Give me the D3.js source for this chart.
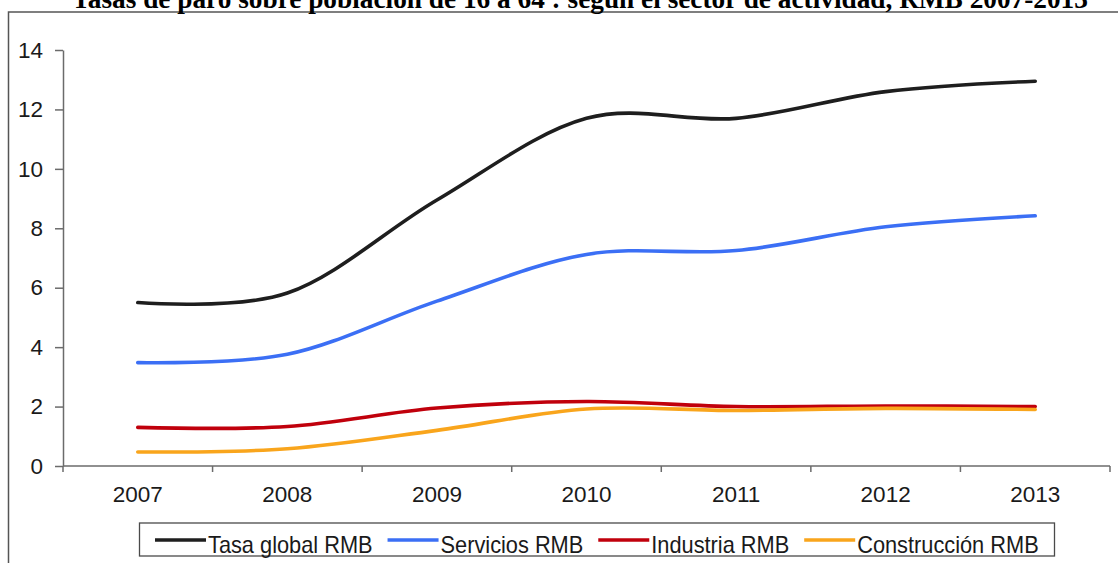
<!DOCTYPE html>
<html>
<head>
<meta charset="utf-8">
<script src="https://cdn.jsdelivr.net/npm/d3@7/dist/d3.min.js"></script>
<style>
  html, body { margin: 0; padding: 0; background: #fff; }
  svg { display: block; }
</style>
</head>
<body>
<svg id="chart" width="1118" height="563"></svg>
<script>
// Unemployment rates (%) by sector of activity, RMB 2007-2013
const years = ["2007", "2008", "2009", "2010", "2011", "2012", "2013"];
const tasaGlobal   = [5.50, 5.82, 8.95, 11.70, 11.70, 12.60, 12.95];
const servicios    = [3.48, 3.76, 5.55, 7.12, 7.25, 8.05, 8.42];
const industria    = [1.30, 1.33, 1.95, 2.17, 2.00, 2.02, 2.00];
const construccion = [0.47, 0.58, 1.20, 1.92, 1.87, 1.94, 1.90];
const seriesNames  = ["Tasa global RMB", "Servicios RMB", "Industria RMB", "Construcción RMB"];
const seriesColors = ["#1e1e1e", "#3b6ff5", "#c0000c", "#f9a51c"];
const yTicks = [0, 2, 4, 6, 8, 10, 12, 14];
const title = "Tasas de paro sobre población de 16 a 64 : según el sector de actividad, RMB 2007-2013";

const seriesValues = [tasaGlobal, servicios, industria, construccion];

const svg = d3.select("#chart");
const sansFont = "'Liberation Sans', Arial, Helvetica, sans-serif";
const axisColor = "#6b6b6b";

// outer frame
svg.append("rect")
  .attr("x", 8.5).attr("y", 12).attr("width", 1300).attr("height", 700)
  .attr("fill", "none").attr("stroke", "#555").attr("stroke-width", 1.5);

// title (sits at the very top edge)
svg.append("text")
  .attr("x", 580).attr("y", 7.5)
  .attr("text-anchor", "middle")
  .attr("font-family", "'Liberation Serif', 'Times New Roman', serif")
  .attr("font-weight", "bold")
  .attr("font-size", 27.3)
  .text(title);

const plot = { left: 63, right: 1110, top: 50, bottom: 466 };

const x = d3.scaleBand().domain(years).range([plot.left, plot.right]).padding(0);
const y = d3.scaleLinear().domain([0, 14]).range([plot.bottom, plot.top]);
const cx = d => x(d) + x.bandwidth() / 2;

// y axis
const yAxis = svg.append("g")
  .attr("transform", `translate(${plot.left},0)`)
  .call(d3.axisLeft(y).tickValues(yTicks).tickSize(8).tickSizeOuter(0).tickPadding(12).tickFormat(d3.format("d")));
yAxis.select(".domain").attr("stroke", axisColor).attr("stroke-width", 1.5);
yAxis.selectAll(".tick line").attr("stroke", axisColor).attr("stroke-width", 1.5);
yAxis.selectAll(".tick text")
  .attr("font-family", sansFont).attr("font-size", 22.5).attr("fill", "#1a1a1a");

// x axis: baseline, boundary ticks and centred year labels
const boundaries = years.map(d => x(d)).concat([x(years[years.length - 1]) + x.bandwidth()]);
const xAxis = svg.append("g");
xAxis.append("line")
  .attr("x1", plot.left).attr("x2", plot.right)
  .attr("y1", plot.bottom).attr("y2", plot.bottom)
  .attr("stroke", axisColor).attr("stroke-width", 1.5);
xAxis.selectAll("line.bound").data(boundaries).join("line")
  .attr("class", "bound")
  .attr("x1", d => d).attr("x2", d => d)
  .attr("y1", plot.bottom).attr("y2", plot.bottom + 6)
  .attr("stroke", axisColor).attr("stroke-width", 1.5);
xAxis.selectAll("text").data(years).join("text")
  .attr("x", d => cx(d)).attr("y", 502)
  .attr("text-anchor", "middle")
  .attr("font-family", sansFont).attr("font-size", 22.5).attr("fill", "#1a1a1a")
  .text(d => d);

// smoothed series lines
const line = d3.line()
  .x((v, i) => cx(years[i]))
  .y(v => y(v))
  .curve(d3.curveCardinal.tension(0));

svg.append("g").selectAll("path").data(seriesValues).join("path")
  .attr("d", d => line(d))
  .attr("fill", "none")
  .attr("stroke", (d, i) => seriesColors[i])
  .attr("stroke-width", 3.6)
  .attr("stroke-linecap", "round")
  .attr("stroke-linejoin", "round");

// legend
const legendBox = { x: 139.5, y: 523, w: 915, h: 33 };
const legend = svg.append("g");
legend.append("rect")
  .attr("x", legendBox.x).attr("y", legendBox.y)
  .attr("width", legendBox.w).attr("height", legendBox.h)
  .attr("fill", "#fff").attr("stroke", "#4a4a4a").attr("stroke-width", 1.3);

const sampleLen = 51, sampleGap = 2, itemGap = 15, squeeze = 0.907;
let cursor = 155;
const midY = legendBox.y + legendBox.h / 2 + 0.5;
seriesNames.forEach((name, i) => {
  legend.append("line")
    .attr("x1", cursor).attr("x2", cursor + sampleLen)
    .attr("y1", midY).attr("y2", midY)
    .attr("stroke", seriesColors[i]).attr("stroke-width", 3.6);
  const t = legend.append("text")
    .attr("x", cursor + sampleLen + sampleGap).attr("y", legendBox.y + 29.5)
    .attr("font-family", sansFont).attr("font-size", 24).attr("fill", "#1a1a1a")
    .text(name);
  const natural = t.node().getComputedTextLength();
  const w = natural * squeeze;
  t.attr("textLength", w).attr("lengthAdjust", "spacingAndGlyphs");
  cursor += sampleLen + sampleGap + w + itemGap;
});
</script>
</body>
</html>
